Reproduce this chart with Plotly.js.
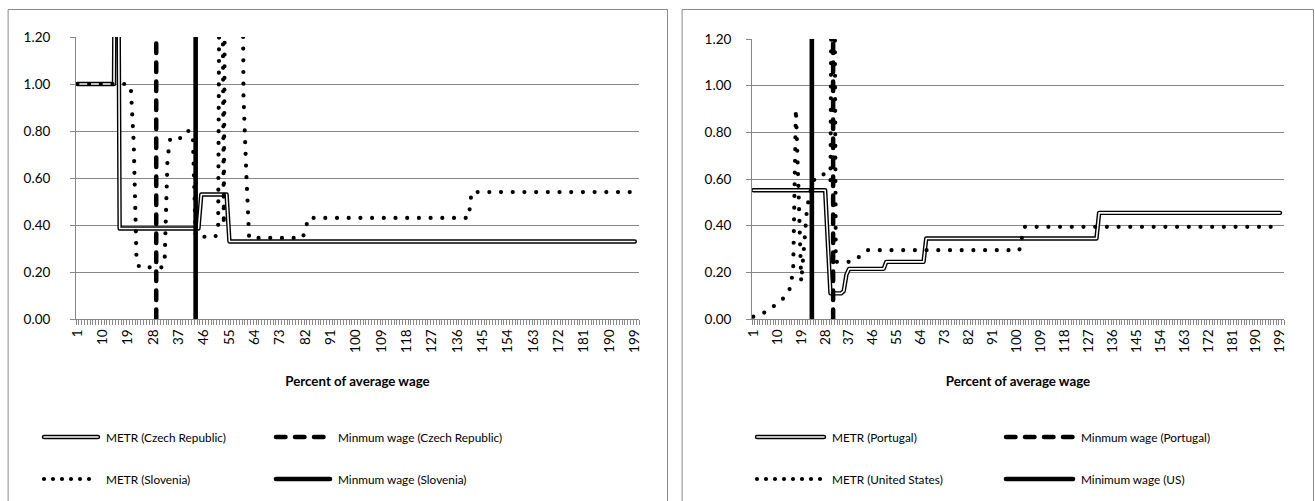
<!DOCTYPE html>
<html><head><meta charset="utf-8">
<script src="https://cdn.plot.ly/plotly-3.0.1.min.js"></script>
<style>
html,body{margin:0;padding:0;background:#fff;}
#chart{width:1315px;height:501px;}
.js-line{stroke-linecap:round;stroke-linejoin:round;}
.shapelayer path{stroke-linecap:round;}
</style></head><body><div id="chart"></div>
<script>
// ---------- data ----------
const categoryRange = [1, 200];               // percent of average wage (categories)
const tickLabels = [1,10,19,28,37,46,55,64,73,82,91,100,109,118,127,136,145,154,163,172,181,190,199];
const yTicks = [0,0.2,0.4,0.6,0.8,1.0,1.2];

// Left chart: Czech Republic & Slovenia
const czMetrX = [1,14,15,16,44,45,54,55,199];
const czMetrY = [1.00,1.00,3.00,0.385,0.385,0.53,0.53,0.33,0.33];
const czMinWage = 29;
const sloMetrX = [1,19,20,21,22,23,31,32,33,34,38,39,40,41,42,43,50,51,52,53,54,59,60,61,62,81,82,83,140,141,199];
const sloMetrY = [1.00,1.00,0.98,0.75,0.25,0.22,0.22,0.25,0.68,0.77,0.77,0.78,0.80,0.80,0.78,0.35,0.35,0.38,3.00,0.40,3.00,3.00,0.95,0.62,0.345,0.345,0.38,0.43,0.43,0.54,0.54];
const sloMinWage = 43;

// Right chart: Portugal & United States
const ptMetrX = [1,28,29,30,34,35,36,37,50,51,65,66,130,131,199];
const ptMetrY = [0.552,0.552,0.33,0.11,0.11,0.12,0.19,0.215,0.215,0.245,0.245,0.345,0.345,0.455,0.455];
const ptMinWage = 31;
const usMetrX = [1,4,7,10,12,13,14,15,16,17,18,19,20,21,22,23,24,25,26,27,28,29,30,31,32,38,39,40,41,42,43,44,101,102,103,199];
const usMetrY = [0.01,0.02,0.04,0.065,0.085,0.10,0.115,0.135,0.22,0.90,0.55,0.16,0.30,0.45,0.53,0.57,0.60,0.61,0.62,0.62,0.62,0.61,0.59,3.00,0.245,0.245,0.25,0.26,0.267,0.275,0.285,0.295,0.295,0.35,0.395,0.395];
const usMinWage = 23;

const leftNames  = ['METR (Czech Republic)','Minmum wage (Czech Republic)','METR (Slovenia)','Minmum wage (Slovenia)'];
const rightNames = ['METR (Portugal)','Minmum wage (Portugal)','METR (United States)','Minimum wage (US)'];
const xTitle = 'Percent of average wage';

// ---------- styling / layout ----------
const W = 1315, H = 501;
const px = v => v / W;
const py = v => 1 - v / H;
const GRID = '#868686';
const FONT = 'Lato, "Open Sans", sans-serif';
const yRange = [0, 1.2];

const styles = {
  dash:   {color:'#000', width:4.5, dash:'9.5px,9.5px'},
  dot:    {color:'#000', width:4.2, dash:'0px,11.7px'},
  dotLeg: {color:'#000', width:4.2, dash:'0px,9px'},
  solid:  {color:'#000', width:4.6}
};

function seriesTraces(xa, ya, metrX, metrY, minA, dotX, dotY, minB) {
  return [
    {x:metrX, y:metrY, xaxis:xa, yaxis:ya, mode:'lines', line:{color:'#000', width:4.4}},
    {x:metrX, y:metrY, xaxis:xa, yaxis:ya, mode:'lines', line:{color:'#fff', width:1.6}},
    {x:[minA,minA], y:yRange, xaxis:xa, yaxis:ya, mode:'lines', line:styles.dash},
    {x:dotX, y:dotY, xaxis:xa, yaxis:ya, mode:'lines', line:styles.dot},
    {x:[minB,minB], y:yRange, xaxis:xa, yaxis:ya, mode:'lines', line:styles.solid}
  ];
}

const traces = [
  ...seriesTraces('x','y', czMetrX, czMetrY, czMinWage, sloMetrX, sloMetrY, sloMinWage),
  ...seriesTraces('x2','y2', ptMetrX, ptMetrY, ptMinWage, usMetrX, usMetrY, usMinWage)
].map(t => Object.assign(t, {showlegend:false, hoverinfo:'skip'}));

function xAxis(domain, anchor) {
  return {
    domain, anchor,
    range:[categoryRange[0]-0.5, categoryRange[1]+0.5],
    tickmode:'array', tickvals:tickLabels, ticktext:tickLabels.map(String),
    tickangle:-90, ticks:'', ticklabelstandoff:4,
    tickfont:{family:FONT, size:13.5, color:'#000'},
    showline:true, linecolor:GRID, linewidth:1, showgrid:false, zeroline:false,
    minor:{tickmode:'linear', tick0:0.5, dtick:1, ticks:'outside', ticklen:5, tickcolor:GRID, tickwidth:1, showgrid:false},
    title:{text:xTitle, font:{family:FONT, size:13.3, color:'#000', weight:'bold'}, standoff:24}
  };
}
function yAxis(domain, anchor, standoff) {
  return {
    domain, anchor, range:yRange,
    tickmode:'array', tickvals:yTicks, tickformat:'.2f',
    ticks:'outside', ticklen:5, tickcolor:GRID, ticklabelstandoff:standoff,
    tickfont:{family:FONT, size:13.5, color:'#000'},
    showline:true, linecolor:GRID, showgrid:true, gridcolor:GRID, gridwidth:1, zeroline:false
  };
}

const shapes = [
  {type:'rect', xref:'paper', yref:'paper', x0:px(8.5), x1:px(667.5), y0:py(9.5), y1:py(505), line:{color:'#8a8a8a', width:1}},
  {type:'rect', xref:'paper', yref:'paper', x0:px(682.5), x1:px(1313.5), y0:py(9.5), y1:py(505), line:{color:'#8a8a8a', width:1}}
];
const annotations = [];

function legend(names, col1, col2, row1, row2, len) {
  const items = [
    {n:names[0], s:'dbl', x:col1, y:row1},
    {n:names[1], s:'dash', x:col2, y:row1},
    {n:names[2], s:'dotLeg', x:col1, y:row2},
    {n:names[3], s:'solid', x:col2, y:row2}
  ];
  items.forEach(it => {
    const base = {type:'line', xref:'paper', yref:'paper', x0:px(it.x), x1:px(it.x+len), y0:py(it.y), y1:py(it.y)};
    if (it.s === 'dbl') {
      shapes.push(Object.assign({}, base, {line:{color:'#000', width:4.4}}));
      shapes.push(Object.assign({}, base, {line:{color:'#fff', width:1.6}}));
    } else {
      shapes.push(Object.assign({}, base, {line:styles[it.s]}));
    }
    annotations.push({xref:'paper', yref:'paper', x:px(it.x+len+6), y:py(it.y), xanchor:'left', yanchor:'middle',
      text:it.n, showarrow:false, font:{family:FONT, size:11.8, color:'#000'}});
  });
}
legend(leftNames, 44, 276, 437, 479, 54);
legend(rightNames, 757, 1006, 437, 479, 67);

const layout = {
  width:W, height:H, margin:{l:0,r:0,t:0,b:0},
  paper_bgcolor:'#fff', plot_bgcolor:'#fff', showlegend:false,
  xaxis: xAxis([px(76), px(639)], 'y'),
  yaxis: yAxis([py(319), py(37)], 'x', 17),
  xaxis2: xAxis([px(752), px(1284)], 'y2'),
  yaxis2: yAxis([py(319), py(39)], 'x2', 12),
  shapes, annotations
};

Plotly.newPlot('chart', traces, layout, {staticPlot:true});
</script></body></html>
